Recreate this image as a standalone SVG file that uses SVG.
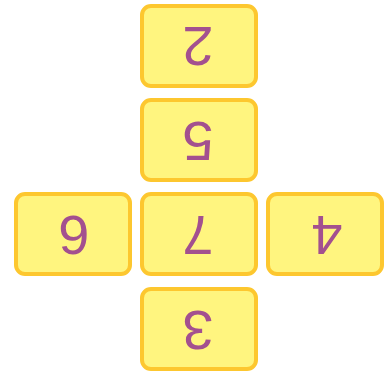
<svg xmlns="http://www.w3.org/2000/svg" width="385" height="374" viewBox="0 0 385 374">
<style>
.box{fill:#fff57f;stroke:#fdc72f;stroke-width:4}
.lbl{font-family:"Liberation Sans",Arial,sans-serif;font-size:56px;fill:#a3508f;text-anchor:middle}
</style>
<g id="connectors"/>
<g id="n2"><rect class="box" x="142" y="6" width="114" height="80" rx="9"/><text class="lbl" transform="rotate(180 198 47)" x="198" y="67">2</text></g>
<g id="n5"><rect class="box" x="142" y="100" width="114" height="80" rx="9"/><text class="lbl" transform="rotate(180 198 142)" x="198" y="162">5</text></g>
<g id="n6"><rect class="box" x="16" y="194" width="114" height="80" rx="9"/><text class="lbl" transform="rotate(180 74 236)" x="74" y="256">6</text></g>
<g id="n7"><rect class="box" x="142" y="194" width="114" height="80" rx="9"/><text class="lbl" transform="rotate(180 198 236)" x="198" y="256">7</text></g>
<g id="n4"><rect class="box" x="268" y="194" width="114" height="80" rx="9"/><text class="lbl" transform="rotate(180 327 236)" x="327" y="256">4</text></g>
<g id="n3"><rect class="box" x="142" y="289" width="114" height="80" rx="9"/><text class="lbl" transform="rotate(180 198 331)" x="198" y="351">3</text></g>
</svg>
